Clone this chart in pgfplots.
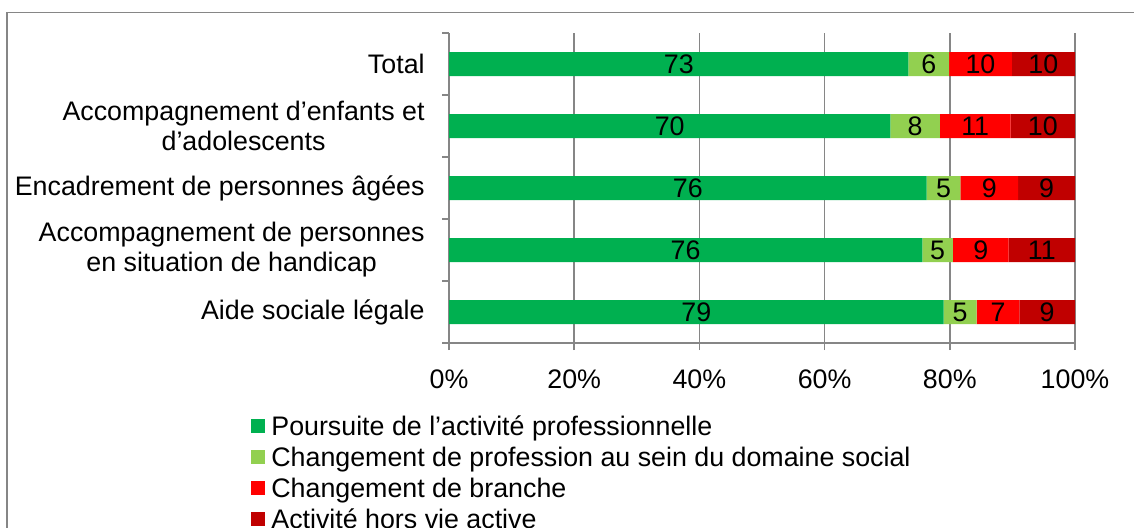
\documentclass[border=0pt]{standalone}
\usepackage{fontspec}
\setmainfont{Liberation Sans}
\usepackage{pgfplots}
\usepackage{pgfplotstable}
\pgfplotsset{compat=1.18}
\definecolor{cA}{HTML}{00B050}
\definecolor{cB}{HTML}{92D050}
\definecolor{cC}{HTML}{FF0000}
\definecolor{cD}{HTML}{C00000}
\definecolor{axgray}{HTML}{868686}
\newcommand\f{\fontsize{13.4}{15}\selectfont}

\pgfplotstableread{
y a    la b   lb c    lc d    ld
4 73.4 73 6.5 6  10.0 10 10.1 10
3 70.5 70 7.9 8  11.3 11 10.3 10
2 76.3 76 5.4 5  9.2  9  9.1  9
1 75.6 76 4.9 5  8.9  9  10.6 11
0 79.0 79 5.3 5  6.8  7  8.9  9
}\datatable
% label positions: middle of each segment
\pgfplotstablecreatecol[create col/expr={\thisrow{a}/2}]{ma}\datatable
\pgfplotstablecreatecol[create col/expr={\thisrow{a}+\thisrow{b}/2}]{mb}\datatable
\pgfplotstablecreatecol[create col/expr={\thisrow{a}+\thisrow{b}+\thisrow{c}/2}]{mc}\datatable
\pgfplotstablecreatecol[create col/expr={\thisrow{a}+\thisrow{b}+\thisrow{c}+\thisrow{d}/2}]{md}\datatable

\pgfplotsset{
  sq/.style={fill=#1, draw=none,
    legend image code/.code={\path[fill=#1] (0pt,-3.5pt) rectangle (7pt,3.5pt);}},
  frame/.style={at={(224.5pt,92pt)}, anchor=south west,
    scale only axis, width=313pt, height=155pt,
    xmin=0, xmax=100, ymin=-0.5, ymax=4.5},
}

\begin{document}
\begin{tikzpicture}
\path[use as bounding box, clip] (0,0) rectangle (567pt,263.5pt);
\draw[axgray, line width=0.8pt] (3.5pt,-20pt) rectangle (620pt,257.2pt);
\begin{axis}[
  frame,
  xbar stacked, bar width=12pt,
  axis x line*=bottom, axis y line*=left,
  axis line style={axgray, line width=0.8pt},
  xtick={0,20,...,100},
  xticklabel={\pgfmathprintnumber{\tick}\%},
  /pgf/number format/assume math mode=true,
  xmajorgrids, major grid style={axgray, line width=0.8pt},
  tick align=outside, major tick length=3.5pt,
  tick style={axgray, line width=0.8pt},
  tick label style={font=\f, text=black},
  x tick label style={inner sep=0pt, yshift=-9.5pt},
  ytick={-0.5,0.5,...,4.5}, yticklabels={},
  extra y ticks={0,1,2,3,4},
  extra y tick labels={Aide sociale légale, {Accompagnement de personnes\\en situation de handicap}, Encadrement de personnes âgées, {Accompagnement d’enfants et\\d’adolescents}, Total},
  extra y tick style={major tick length=0pt, tick label style={align=center, inner sep=0pt, xshift=-12pt, anchor=east}},
  legend style={draw=none, fill=none, at={(-0.3259,-0.224)}, anchor=north west,
     legend cell align=left, font=\f,
     nodes={inner sep=0pt, text height=9.3pt, text depth=0pt},
     row sep=6.2pt, column sep=3pt},
]
\addplot[sq=cA] table[x=a, y=y] \datatable;
\addplot[sq=cB] table[x=b, y=y] \datatable;
\addplot[sq=cC] table[x=c, y=y] \datatable;
\addplot[sq=cD] table[x=d, y=y] \datatable;
\legend{Poursuite de l’activité professionnelle, Changement de profession au sein du domaine social, Changement de branche, Activité hors vie active}
\end{axis}
\begin{axis}[
  frame, hide axis,
  point meta=explicit symbolic,
  nodes near coords,
  every node near coord/.append style={anchor=center, font=\f, text=black, inner sep=0pt},
]
\addplot[draw=none] table[x=ma, y=y, meta=la] \datatable;
\addplot[draw=none] table[x=mb, y=y, meta=lb] \datatable;
\addplot[draw=none] table[x=mc, y=y, meta=lc] \datatable;
\addplot[draw=none] table[x=md, y=y, meta=ld] \datatable;
\end{axis}
\end{tikzpicture}
\end{document}
